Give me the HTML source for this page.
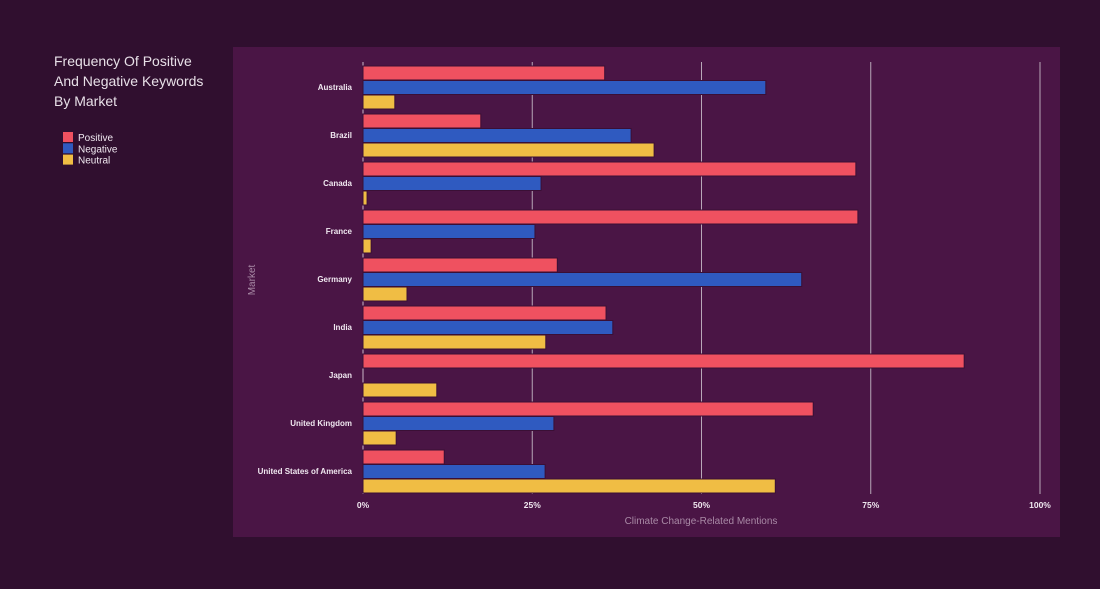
<!DOCTYPE html>
<html><head><meta charset="utf-8"><style>
body{margin:0;width:1100px;height:584px;background:#300f2f;overflow:hidden;font-family:"Liberation Sans",sans-serif}
</style></head><body>
<svg id="c" width="1100" height="584">
<rect x="233" y="47" width="827" height="490" fill="#4a1545"/>
<text x="54" y="66" font-size="14" fill="#e8e0e8"><tspan x="54">Frequency Of Positive</tspan><tspan x="54" dy="20">And Negative Keywords</tspan><tspan x="54" dy="20">By Market</tspan></text>
<g id="legend"></g>
<g id="grid"></g><g id="bars"></g><g id="labels"></g>
<text x="701" y="524" font-size="10" fill="#a98aa6" text-anchor="middle">Climate Change-Related Mentions</text>
<text x="255" y="280" font-size="10" fill="#a98aa6" text-anchor="middle" transform="rotate(-90 255 280)">Market</text>
</svg>
<script>
const categories=["Australia","Brazil","Canada","France","Germany","India","Japan","United Kingdom","United States of America"];
const positive=[35.7,17.4,72.8,73.1,28.7,35.9,88.8,66.5,12];
const negative=[59.5,39.6,26.3,25.4,64.8,36.9,0,28.2,26.9];
const neutral=[4.7,43,0.6,1.2,6.5,27,10.9,4.9,60.9];
const ticks=[0,25,50,75,100];
const tickLabels=["0%","25%","50%","75%","100%"];
const seriesNames=["Positive","Negative","Neutral"];
const colors=["#ef5160","#2f5ac0","#f0bd44"];
const NS="http://www.w3.org/2000/svg";
const x=v=>363+v*6.77;
const y=i=>66+i*48;
function mk(t,a,p){const e=document.createElementNS(NS,t);for(const k in a)e.setAttribute(k,a[k]);p.appendChild(e);return e;}
const grid=document.getElementById('grid'),bars=document.getElementById('bars'),labels=document.getElementById('labels'),legend=document.getElementById('legend');
ticks.forEach((t,i)=>{
 const l=mk('line',{x1:x(t),x2:x(t),y1:62,y2:494,stroke:i==0?'#c9b8c8':'#b8a8b8','stroke-width':1},grid);
 
 
 const tx=mk('text',{x:x(t),y:508,'font-size':8.5,'font-weight':'bold',fill:'#f0e8f0','text-anchor':'middle'},labels);
 tx.textContent=tickLabels[i];
 
 
});
const series=[positive,negative,neutral];
categories.forEach((c,i)=>{
 series.forEach((s,j)=>{
  if(s[i]<=0)return;
  const r=mk('rect',{x:x(0),y:y(i)+j*14.5,width:x(s[i])-x(0),height:14,fill:colors[j],stroke:'#3a0f35','stroke-width':1},bars);
  
  
 });
 const t=mk('text',{x:352,y:y(i)+24,'font-size':8,'font-weight':'bold',fill:'#f0e8f0','text-anchor':'end'},labels);
 t.textContent=c;
 
 
});
seriesNames.forEach((n,j)=>{
 const g=mk('g',{},legend);
 
 
 mk('rect',{x:63,y:132+j*11.3,width:10,height:10,fill:colors[j]},g);
 const t=mk('text',{x:78,y:141+j*11.3,'font-size':10,fill:'#f0e8f0'},g);
 t.textContent=n;
});
</script>
</body></html>
